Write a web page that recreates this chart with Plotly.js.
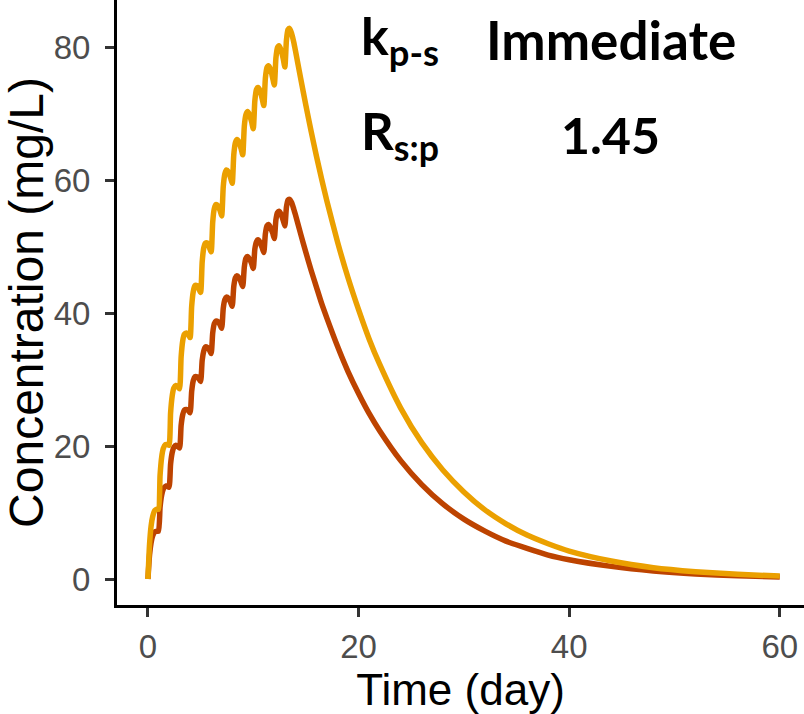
<!DOCTYPE html>
<html>
<head>
<meta charset="utf-8">
<script src="https://cdn.plot.ly/plotly-3.0.1.min.js"></script>
<style>
  html, body { margin: 0; padding: 0; background: #ffffff; }
  #chart { width: 804px; height: 714px; }
</style>
</head>
<body>
<div id="chart"></div>
<script>
// Time points (day)
var timeDay = [
  0, 0.15, 0.3, 0.45, 0.65, 0.85,
  1, 1.15, 1.3, 1.45, 1.65, 1.85,
  2, 2.15, 2.3, 2.45, 2.65, 2.85,
  3, 3.15, 3.3, 3.45, 3.65, 3.85,
  4, 4.15, 4.3, 4.45, 4.65, 4.85,
  5, 5.15, 5.3, 5.45, 5.65, 5.85,
  6, 6.15, 6.3, 6.45, 6.65, 6.85,
  7, 7.15, 7.3, 7.45, 7.65, 7.85,
  8, 8.15, 8.3, 8.45, 8.65, 8.85,
  9, 9.15, 9.3, 9.45, 9.65, 9.85,
  10, 10.15, 10.3, 10.45, 10.65, 10.85,
  11, 11.15, 11.3, 11.45, 11.65, 11.85,
  12, 12.15, 12.3, 12.45, 12.65, 12.85,
  13, 13.15, 13.3, 13.45, 13.65, 13.85,
  14, 14.5, 15, 15.5, 16, 16.5, 17, 18, 19, 20, 21, 22, 24, 26, 28, 30,
  32, 34, 36, 38, 40, 44, 48, 52, 56, 60
];

// Orange curve (higher concentration), mg/L
var concOrange = [
  0, 5.2, 8.0, 9.4, 10.3, 10.5,
  10.5, 15.6, 18.3, 19.6, 20.2, 20.2,
  20.1, 25.0, 27.5, 28.7, 29.1, 28.9,
  28.6, 33.4, 35.8, 36.8, 37.0, 36.7,
  36.3, 41.0, 43.2, 44.1, 44.1, 43.6,
  43.1, 47.7, 49.8, 50.5, 50.5, 49.8,
  49.2, 53.7, 55.7, 56.3, 56.1, 55.4,
  54.6, 59.0, 60.9, 61.5, 61.2, 60.3,
  59.5, 63.8, 65.6, 66.1, 65.7, 64.7,
  63.8, 68.1, 69.8, 70.3, 69.8, 68.7,
  67.7, 71.9, 73.6, 73.9, 73.4, 72.2,
  71.2, 75.3, 76.9, 77.2, 76.6, 75.3,
  74.3, 78.3, 79.9, 80.2, 79.5, 78.2,
  77.0, 81.0, 82.6, 82.8, 82.0, 80.7,
  79.5, 75.3, 71.2, 67.3, 63.6, 60.1, 56.8, 50.7, 45.3, 40.5, 36.1, 32.3, 25.7, 20.5, 16.4, 13.1,
  10.4, 8.3, 6.6, 5.3, 4.2, 2.7, 1.7, 1.1, 0.7, 0.44
];

// Dark orange-red curve (lower concentration), mg/L
var concRed = [
  0, 3.6, 5.5, 6.5, 7.1, 7.2,
  7.2, 10.8, 12.6, 13.5, 13.9, 14.0,
  13.8, 17.3, 19.0, 19.8, 20.1, 19.9,
  19.7, 23.1, 24.7, 25.4, 25.5, 25.3,
  25.0, 28.2, 29.8, 30.4, 30.4, 30.1,
  29.7, 32.9, 34.3, 34.9, 34.8, 34.4,
  33.9, 37.0, 38.4, 38.8, 38.7, 38.2,
  37.7, 40.7, 42.0, 42.4, 42.2, 41.6,
  41.0, 44.0, 45.3, 45.6, 45.3, 44.6,
  44.0, 46.9, 48.2, 48.5, 48.1, 47.4,
  46.7, 49.6, 50.7, 51.0, 50.6, 49.8,
  49.1, 51.9, 53.1, 53.3, 52.8, 52.0,
  51.2, 54.0, 55.1, 55.3, 54.8, 53.9,
  53.1, 55.9, 57.0, 57.1, 56.6, 55.6,
  54.8, 51.9, 49.1, 46.4, 43.9, 41.4, 39.2, 35.0, 31.2, 27.9, 24.9, 22.3, 17.8, 14.2, 11.3, 9.0,
  7.2, 5.7, 4.6, 3.6, 2.9, 1.9, 1.2, 0.75, 0.48, 0.30
];

var xTickVals = [0, 20, 40, 60];
var yTickVals = [0, 20, 40, 60, 80];
var xTitle = 'Time (day)';
var yTitle = 'Concentration (mg/L)';
var labelK = 'k<sub>p-s</sub>';
var labelKValue = 'Immediate';
var labelR = 'R<sub>s:p</sub>';
var labelRValue = '1.45';

var traces = [
  {
    x: timeDay, y: concRed, type: 'scatter', mode: 'lines',
    line: { color: '#BD4300', width: 5.5, shape: 'spline', smoothing: 0.6 },
    showlegend: false, hoverinfo: 'skip'
  },
  {
    x: timeDay, y: concOrange, type: 'scatter', mode: 'lines',
    line: { color: '#EBA000', width: 5.5, shape: 'spline', smoothing: 0.6 },
    showlegend: false, hoverinfo: 'skip'
  }
];

function annFont(sz) {
  return { family: 'Lato, "Open Sans", sans-serif', size: sz, color: '#000000', weight: 'bold' };
}

var layout = {
  width: 804, height: 714,
  margin: { l: 117, r: 0, t: 0, b: 109, pad: 0 },
  paper_bgcolor: '#ffffff', plot_bgcolor: '#ffffff',
  font: { family: '"Liberation Sans", Arial, sans-serif' },
  showlegend: false,
  xaxis: {
    range: [-2.94, 62.3],
    tickmode: 'array', tickvals: xTickVals,
    showgrid: false, zeroline: false,
    showline: true, linecolor: '#000000', linewidth: 3,
    ticks: 'outside', ticklen: 9, tickwidth: 3, tickcolor: '#333333',
    tickfont: { size: 33, color: '#4D4D4D' },
    ticklabelstandoff: 1,
    title: { text: xTitle, font: { size: 44, color: '#000000' }, standoff: 4 },
    automargin: false
  },
  yaxis: {
    range: [-3.91, 87.07],
    tickmode: 'array', tickvals: yTickVals,
    showgrid: false, zeroline: false,
    showline: true, linecolor: '#000000', linewidth: 3,
    ticks: 'outside', ticklen: 9, tickwidth: 3, tickcolor: '#333333',
    tickfont: { size: 33, color: '#4D4D4D' },
    ticklabelstandoff: 8,
    title: { text: yTitle, font: { size: 48, color: '#000000' }, standoff: 16 },
    automargin: false
  },
  annotations: [
    { x: 20.0, y: 81.2, xref: 'x', yref: 'y', xanchor: 'left', yanchor: 'middle',
      text: labelK, showarrow: false, font: annFont(52) },
    { x: 44.0, y: 81.2, xref: 'x', yref: 'y', xanchor: 'center', yanchor: 'middle',
      text: labelKValue, showarrow: false, font: annFont(53) },
    { x: 20.0, y: 66.8, xref: 'x', yref: 'y', xanchor: 'left', yanchor: 'middle',
      text: labelR, showarrow: false, font: annFont(51) },
    { x: 43.95, y: 66.8, xref: 'x', yref: 'y', xanchor: 'center', yanchor: 'middle',
      text: labelRValue, showarrow: false, font: annFont(50) }
  ]
};

Plotly.newPlot('chart', traces, layout, { displayModeBar: false, staticPlot: true });
</script>
</body>
</html>
